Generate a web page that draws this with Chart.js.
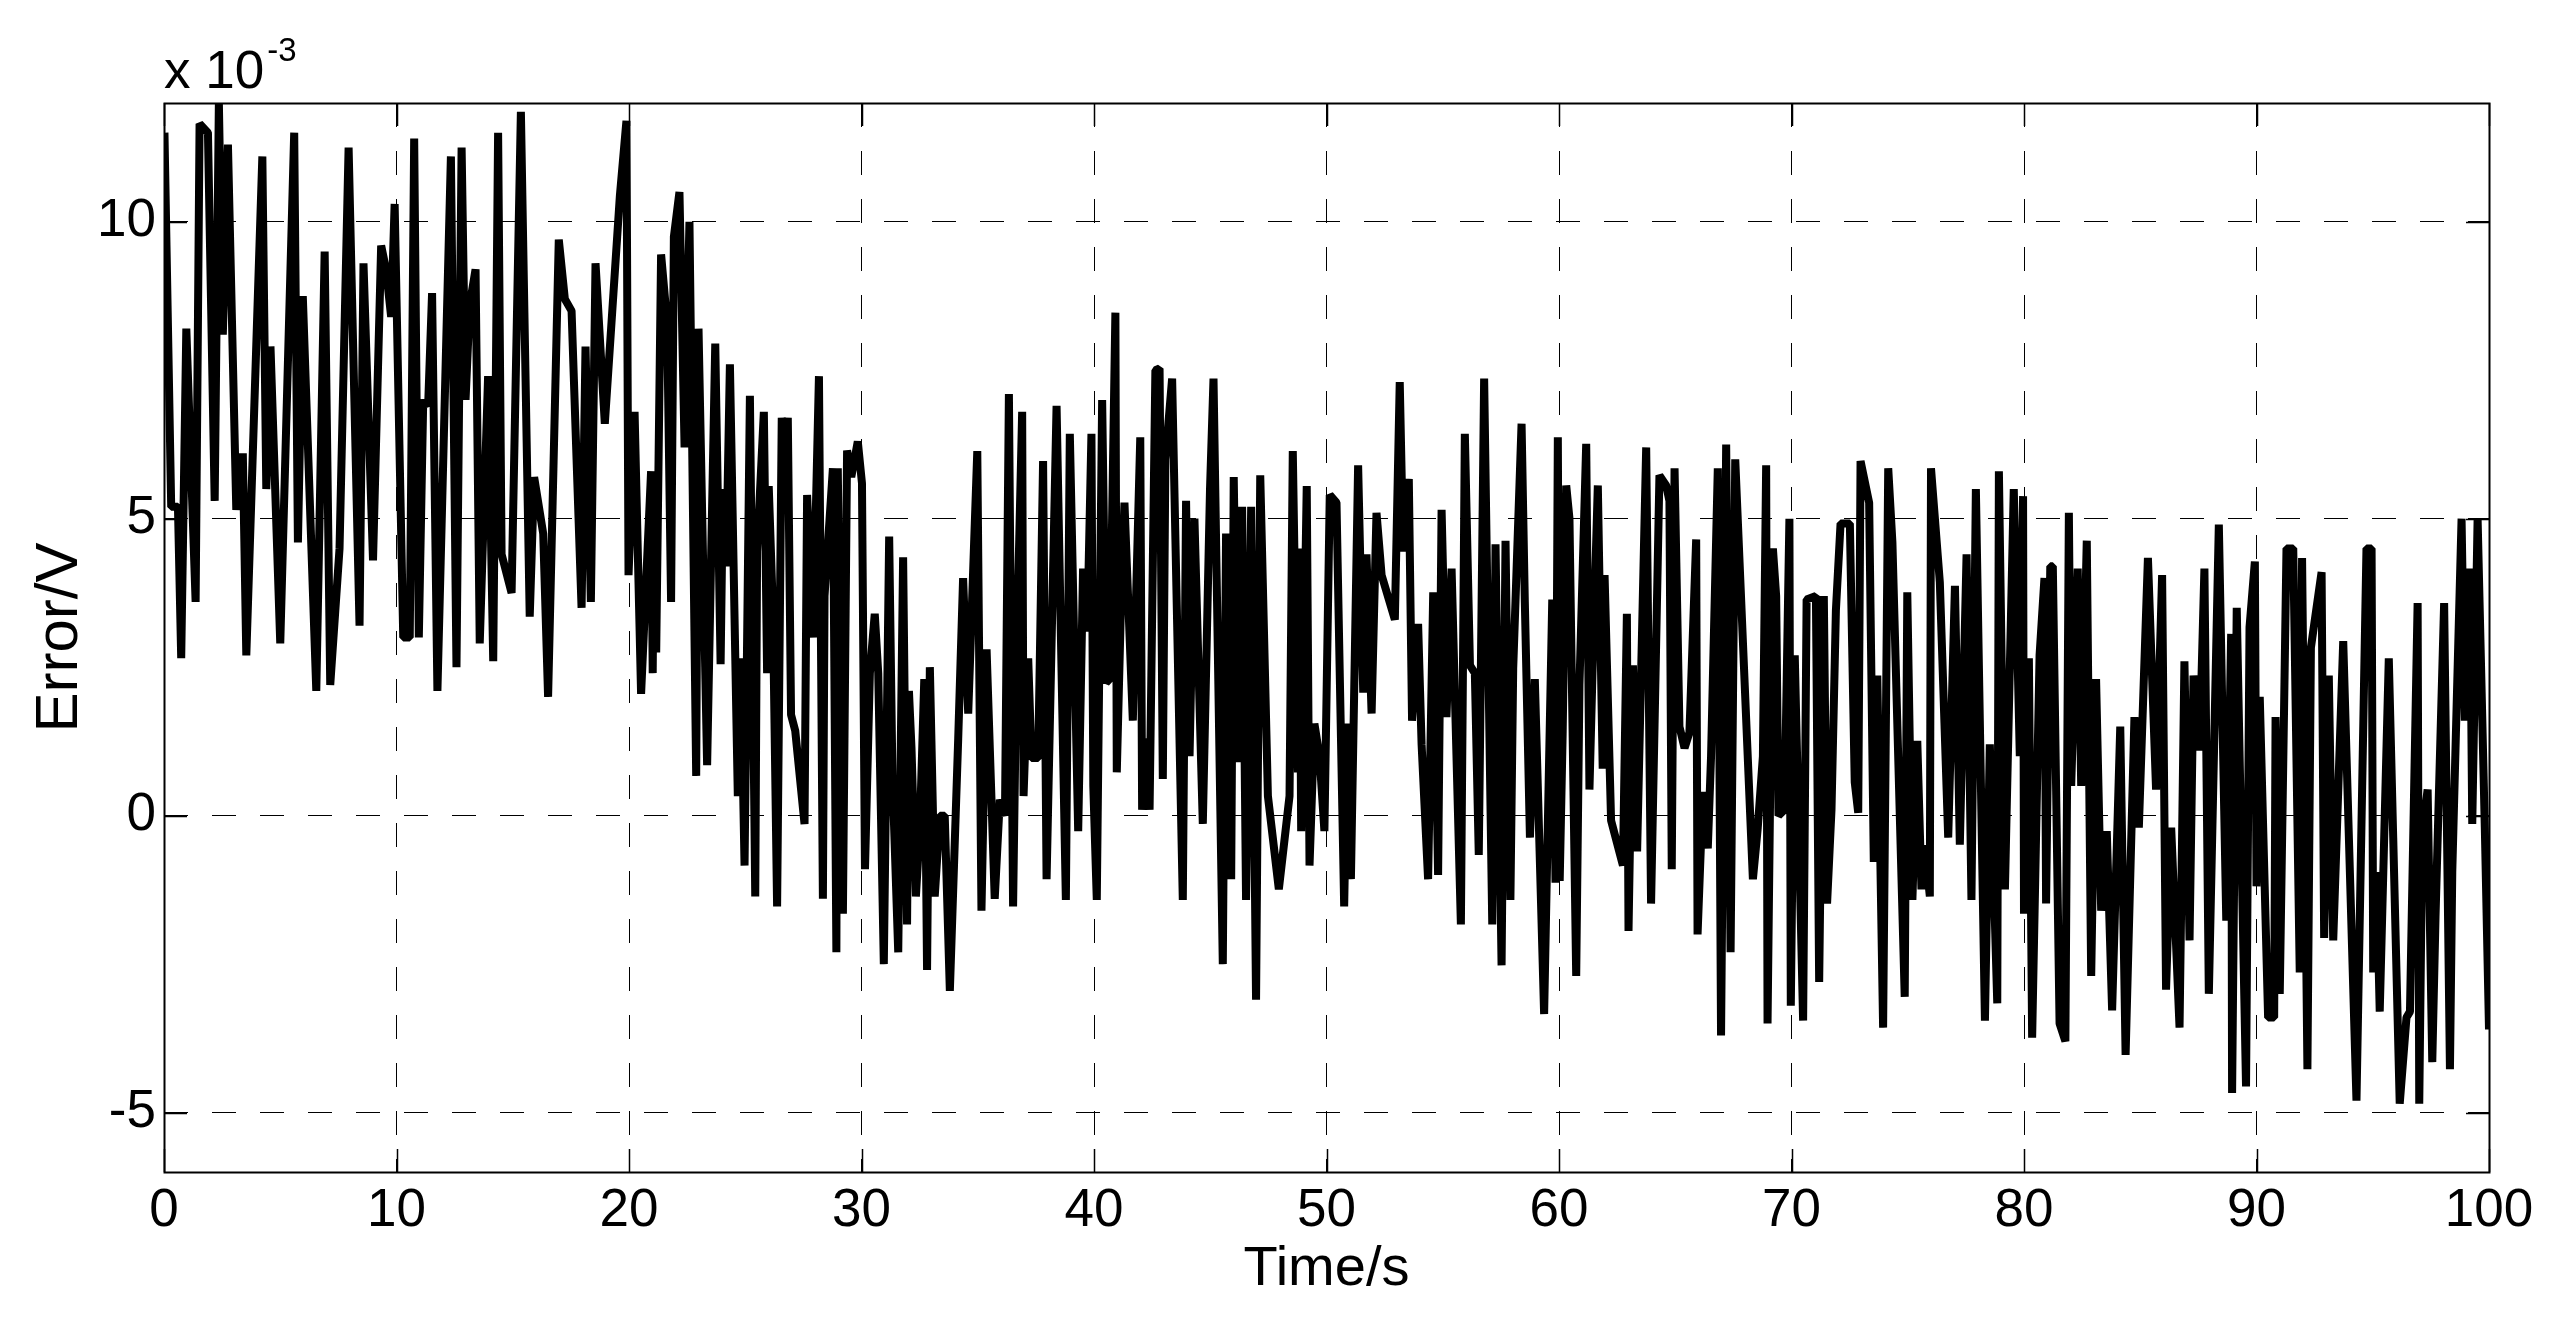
<!DOCTYPE html>
<html>
<head>
<meta charset="utf-8">
<script src="https://cdn.jsdelivr.net/npm/chart.js@4/dist/chart.umd.min.js"></script>
<style>
  html, body { margin: 0; padding: 0; background: #ffffff; }
  #wrap { width: 2553px; height: 1321px; }
</style>
</head>
<body>
<div id="wrap"><canvas id="c" width="2553" height="1321"></canvas></div>
<script>
// ---- data (values in units of 1e-3 V) ----
const timeS = [
0.02,0.31,0.6,0.74,0.96,1.36,1.53,1.89,2.18,2.36,2.53,2.75,3.11,3.39,3.54,4.23,4.40,4.58,5.0,5.6,5.76,5.97,6.55,6.91,7.15,7.55,7.94,8.41,8.58,8.99,9.34,9.55,9.77,9.92,
10.29,10.57,10.76,10.96,11.15,11.36,11.53,11.76,12.34,12.58,12.8,12.97,13.15,13.4,13.58,13.94,14.16,14.37,14.52,14.95,15.35,15.73,15.92,16.31,16.52,16.98,17.24,17.53,17.96,18.13,18.36,18.56,18.96,19.61,19.89,19.98,
20.24,20.52,20.95,21.02,21.08,21.17,21.38,21.64,21.81,21.93,22.17,22.39,22.6,22.89,22.99,23.36,23.71,23.94,24.04,24.18,24.34,24.68,24.8,24.97,25.2,25.43,25.51,25.8,25.94,26.01,26.19,26.37,26.57,26.7,26.83,26.97,27.15,27.55,27.66,27.91,28.17,28.34,28.41,28.77,28.92,28.98,29.2,29.38,29.56,29.84,
30.02,30.15,30.36,30.57,30.72,30.96,31.19,31.33,31.58,31.79,31.96,32.04,32.15,32.34,32.51,32.7,32.82,32.94,33.15,33.37,33.58,33.8,34.16,34.37,34.59,34.98,35.16,35.38,35.73,35.95,36.17,36.34,36.52,36.67,36.91,36.97,37.17,37.31,37.6,37.81,37.96,38.39,38.79,38.96,39.32,39.53,39.71,39.89,39.97,
40.12,40.35,40.52,40.67,40.92,40.98,41.17,41.31,41.67,41.99,42.07,42.21,42.39,42.64,42.82,42.96,43.07,43.36,43.82,43.96,44.11,44.32,44.68,44.99,45.14,45.54,45.68,45.9,46.01,46.19,46.37,46.54,46.76,46.97,47.15,47.48,47.95,48.41,48.55,48.77,48.84,48.91,49.15,49.27,49.48,49.7,49.91,
50.14,50.43,50.76,50.9,51.05,51.36,51.58,51.72,51.94,52.15,52.37,52.94,53.15,53.3,53.54,53.68,53.94,54.09,54.37,54.59,54.8,54.95,55.16,55.38,55.78,55.95,56.17,56.38,56.55,56.78,57.13,57.27,57.53,57.7,57.91,58.03,58.39,58.53,58.75,58.96,59.36,59.71,59.85,59.95,
60.03,60.16,60.31,60.45,60.74,60.88,61.17,61.31,61.46,61.67,61.88,61.96,62.24,62.75,62.92,62.99,63.18,63.36,63.75,63.96,64.32,64.61,64.75,64.85,64.97,65.18,65.4,65.61,65.9,65.96,66.19,66.4,66.54,66.83,66.97,67.19,67.38,67.58,68.34,68.55,68.77,68.91,68.97,69.2,69.34,69.44,69.7,69.91,69.97,
70.14,70.5,70.65,71.05,71.19,71.39,71.53,71.72,71.91,72.11,72.51,72.72,72.87,72.97,73.34,73.54,73.69,73.94,74.16,74.34,74.87,74.98,75.2,75.41,75.59,75.73,75.95,76.0,76.38,76.74,77.03,77.24,77.53,77.74,77.93,78.32,78.53,78.85,78.92,79.18,79.56,79.82,79.96,
80.0,80.21,80.35,80.67,80.88,80.95,81.13,81.24,81.53,81.78,81.93,82.03,82.31,82.46,82.7,82.89,83.1,83.32,83.56,83.79,84.14,84.37,84.75,84.94,85.33,85.68,85.94,86.11,86.33,86.69,86.9,87.12,87.29,87.55,87.76,87.95,88.38,88.7,88.91,88.95,89.15,89.55,89.7,89.93,
90.0,90.14,90.5,90.76,90.82,91.0,91.29,91.58,91.86,91.96,92.19,92.34,92.8,92.91,93.11,93.3,93.73,94.3,94.73,94.95,95.02,95.16,95.3,95.69,95.88,96.16,96.45,96.6,96.93,97.0,97.13,97.36,97.56,97.7,98.07,98.32,98.42,98.82,98.96,99.18,99.28,99.51,99.82,100
];
const errorE3 = [
11.5,5.2,5.2,2.65,8.2,3.6,11.65,11.5,5.3,12.0,8.1,11.3,5.15,6.1,2.7,11.1,5.5,7.9,2.9,11.5,4.6,8.75,2.1,9.5,2.2,4.5,11.25,3.2,9.3,4.3,9.6,9.2,8.4,10.3,
3.0,3.0,11.4,3.0,7.0,6.9,8.8,2.1,11.1,2.5,11.25,7.0,8.6,9.2,2.9,7.4,2.6,11.5,4.4,3.75,11.85,3.35,5.7,4.75,2.0,9.7,8.7,8.5,3.5,7.9,3.6,9.3,6.6,10.45,11.7,4.05,
6.8,2.05,5.8,2.4,5.6,2.75,9.45,8.3,3.6,9.75,10.5,6.2,10.0,0.67,8.2,0.85,7.95,2.55,5.5,4.2,7.6,0.33,2.65,-0.84,7.07,-1.36,4.45,6.8,2.4,5.55,3.45,-1.53,6.7,5.5,6.7,1.7,1.43,-0.14,5.4,3.0,7.4,-1.4,3.7,5.85,-2.3,5.85,-1.65,6.15,5.7,6.3,
5.6,-0.9,2.4,3.4,2.4,-2.5,4.7,0.67,-2.3,4.35,-1.83,2.1,1.14,-1.36,-0.2,2.3,-2.6,2.5,-1.36,0.0,0.0,-2.95,1.3,4.0,1.72,6.14,-1.6,2.8,-1.4,0.27,0.0,7.1,-1.53,2.7,6.8,0.33,2.65,0.97,0.97,5.97,-1.07,6.9,-1.42,6.43,-0.26,4.16,3.1,6.43,0.5,
-1.42,7.0,2.24,2.3,8.47,0.73,3.7,5.27,1.6,6.37,0.1,1.3,0.1,7.5,7.53,0.62,6.0,7.36,-1.42,5.3,1.0,5.0,-0.14,5.5,7.36,-2.5,4.75,-1.07,5.7,0.9,5.2,-1.42,5.2,-3.1,5.73,0.33,-1.24,0.33,6.14,0.73,4.5,-0.26,5.55,-0.84,1.55,1.0,-0.26,
5.4,5.27,-1.53,1.55,-1.07,5.9,2.07,4.4,1.72,5.1,4.05,3.3,7.3,4.45,5.67,1.6,3.23,1.2,-1.07,3.76,-1.0,5.15,1.66,4.16,-1.83,6.43,2.53,2.4,-0.66,7.36,-1.83,4.57,-2.52,4.63,-1.42,2.48,6.6,3.6,-0.37,2.3,-3.34,3.64,-1.13,6.37,
-1.1,1.43,5.56,5.0,-2.7,2.2,6.26,0.44,2.7,5.56,0.79,4.05,-0.08,-0.84,3.4,-1.94,2.53,-0.6,6.2,-1.48,5.73,5.56,5.3,-0.9,5.85,1.5,1.14,1.4,4.65,-2.0,0.4,-0.55,1.0,5.85,-3.7,6.25,-2.3,6.0,-1.07,-0.2,1.0,5.9,-3.5,4.5,3.7,0.0,0.1,5.0,-3.2,
2.7,-3.45,3.64,3.7,-2.8,3.7,-1.48,0.1,3.46,4.92,4.92,0.56,0.05,5.97,5.27,-0.78,2.36,-3.57,5.85,4.6,-3.05,3.76,-1.42,1.26,-1.24,-0.5,-1.36,5.85,3.93,-0.37,3.87,-0.49,4.4,-1.42,5.5,-3.45,1.2,-3.16,5.8,-1.24,5.5,1.0,5.38,
-1.65,2.65,-3.74,2.7,4.0,-1.48,4.2,4.2,-3.5,-3.8,5.1,0.5,4.16,0.5,4.63,-2.7,2.3,-1.6,-0.26,-3.28,1.5,-4.03,1.66,-0.2,4.34,0.44,4.05,-2.93,-0.2,-3.57,2.6,-2.1,2.36,1.1,4.16,-3.0,4.9,-1.77,3.06,-4.67,3.5,-4.56,3.17,4.28,
-1.19,2.0,-3.4,-3.4,1.66,-3.0,4.5,4.5,-2.64,4.34,-4.27,2.83,4.1,-2.06,2.36,-2.1,2.94,-4.8,4.5,4.5,-2.64,-0.95,-3.3,2.65,-0.37,-4.85,-3.4,-3.3,3.58,-4.85,-0.3,0.44,-4.15,-1.7,3.58,-4.27,-0.95,5.0,1.6,4.16,-0.14,5.0,-0.2,-3.6
];
const xTickValues = [0,10,20,30,40,50,60,70,80,90,100];
const yTickValues = [-5,0,5,10];
const xLabel = 'Time/s';
const yLabel = 'Error/V';
const exponentBase = 'x 10';
const exponentPower = '-3';

const FONT = 'Liberation Sans, Arial, Helvetica, sans-serif';

const points = timeS.map((t, i) => ({ x: t, y: errorE3[i] }));

const frameTicks = {
  id: 'frameTicks',
  afterDatasetsDraw(chart) {
    const { ctx, chartArea: a, scales } = chart;
    const len = 23;
    ctx.save();
    ctx.strokeStyle = '#000';
    ctx.lineWidth = 1.5;
    ctx.setLineDash([]);
    ctx.beginPath();
    xTickValues.forEach(v => {
      const px = Math.round(scales.x.getPixelForValue(v)) + 0.5;
      ctx.moveTo(px, a.bottom); ctx.lineTo(px, a.bottom - len);
      ctx.moveTo(px, a.top); ctx.lineTo(px, a.top + len);
    });
    yTickValues.forEach(v => {
      const py = Math.round(scales.y.getPixelForValue(v)) + 0.5;
      ctx.moveTo(a.left, py); ctx.lineTo(a.left + len, py);
      ctx.moveTo(a.right, py); ctx.lineTo(a.right - len, py);
    });
    ctx.stroke();
    ctx.lineWidth = 2;
    ctx.strokeRect(Math.round(a.left) + 0.5, Math.round(a.top) + 0.5,
                   Math.round(a.right - a.left), Math.round(a.bottom - a.top));
    // exponent label
    ctx.fillStyle = '#000';
    ctx.textBaseline = 'alphabetic';
    ctx.textAlign = 'left';
    ctx.font = '53px ' + FONT;
    ctx.fillText(exponentBase, a.left, 88);
    const w = ctx.measureText(exponentBase).width;
    ctx.font = '33px ' + FONT;
    ctx.fillText(exponentPower, a.left + w + 3, 61);
    ctx.restore();
  }
};

new Chart(document.getElementById('c'), {
  type: 'scatter',
  data: {
    datasets: [{
      data: points,
      showLine: true,
      borderColor: '#000',
      backgroundColor: '#000',
      borderWidth: 8,
      borderJoinStyle: 'bevel',
      pointRadius: 0,
      tension: 0
    }]
  },
  options: {
    responsive: false,
    animation: false,
    events: [],
    layout: { padding: { left: 0, top: 103, right: 64, bottom: 0 } },
    plugins: { legend: { display: false }, tooltip: { enabled: false } },
    scales: {
      x: {
        type: 'linear', min: 0, max: 100,
        afterBuildTicks: s => { s.ticks = xTickValues.map(v => ({ value: v })); },
        afterFit: s => { s.height = 149; },
        grid: { color: '#000', lineWidth: 1, drawTicks: false },
        border: { display: false, dash: [24, 24] },
        ticks: { color: '#000', padding: 8, maxRotation: 0, font: { family: FONT, size: 53 } },
        title: { display: true, text: xLabel, color: '#000', font: { family: FONT, size: 56 }, padding: { top: 0, bottom: 18 } }
      },
      y: {
        type: 'linear', min: -6, max: 12,
        afterBuildTicks: s => { s.ticks = yTickValues.map(v => ({ value: v })); },
        afterFit: s => { s.width = 164; },
        grid: { color: '#000', lineWidth: 1, drawTicks: false },
        border: { display: false, dash: [24, 24] },
        ticks: { color: '#000', padding: 8, font: { family: FONT, size: 53 } },
        title: { display: true, text: yLabel, color: '#000', font: { family: FONT, size: 60 }, padding: { top: 24, bottom: 0 } }
      }
    }
  },
  plugins: [frameTicks]
});
</script>
</body>
</html>
